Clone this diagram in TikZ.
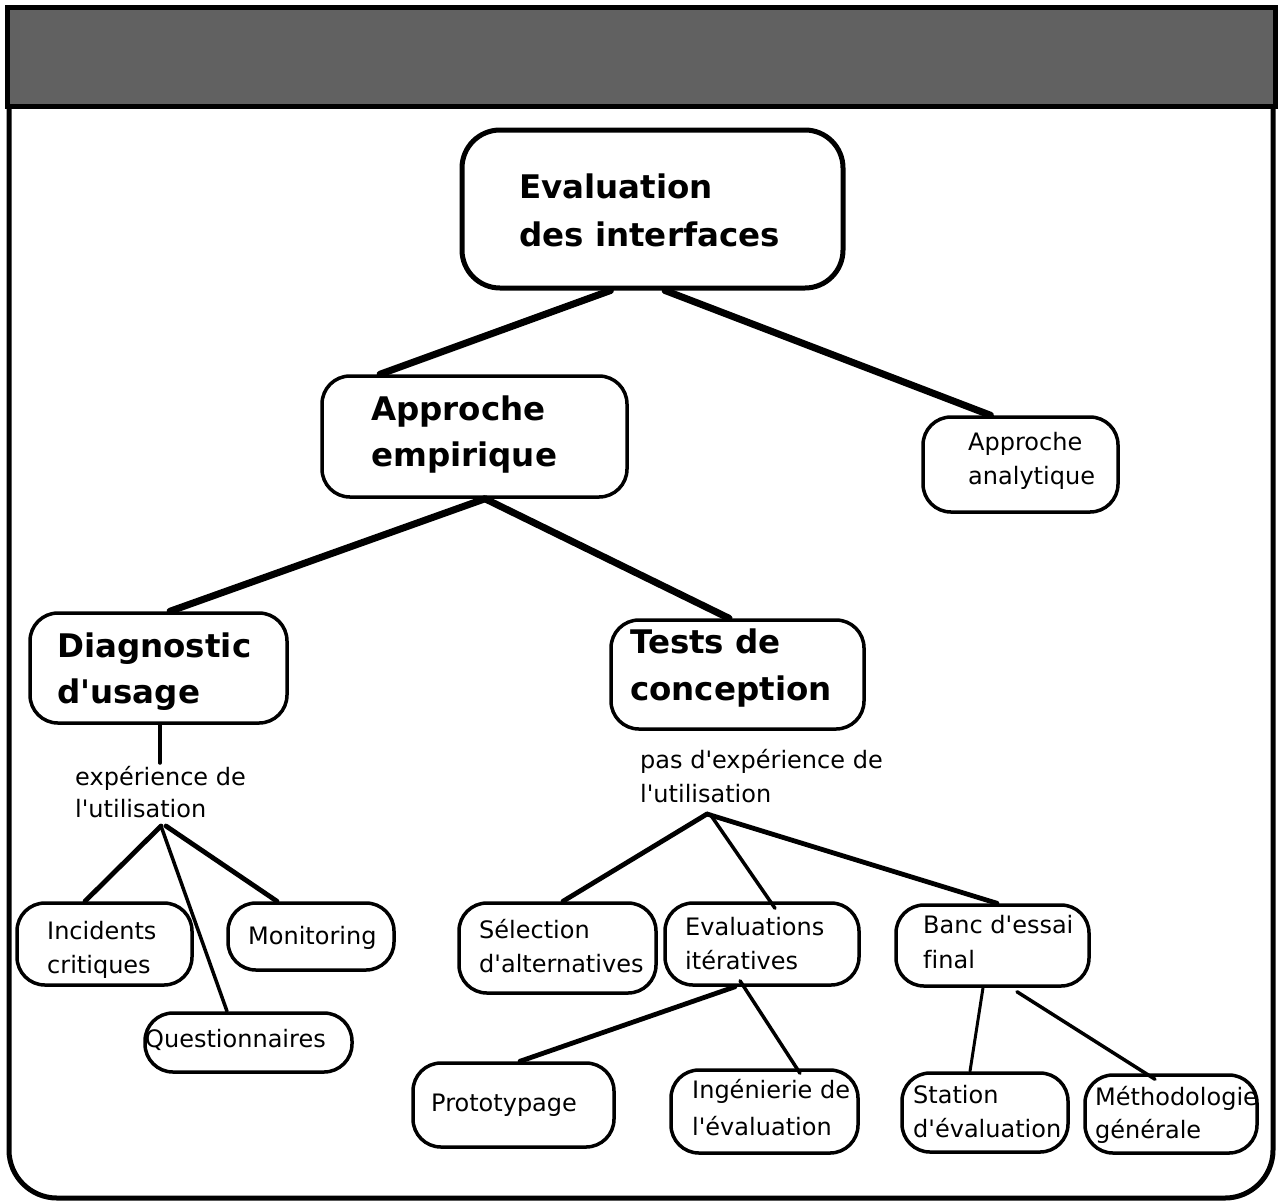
\documentclass[tikz,border=0pt]{standalone}
\usepackage{fontspec}
\setmainfont{DejaVu Sans}[Ligatures={TeXOff,CommonOff}]
\begin{document}
\begin{tikzpicture}[x=1pt,y=-1pt,
  box/.style={draw, line width=3.5pt, rounded corners=28pt, inner sep=0pt},
  bigbox/.style={draw, line width=5pt, rounded corners=38pt, inner sep=0pt},
  bigtxt/.style={font=\bfseries\fontsize{32.5}{40}\selectfont, anchor=base west, inner sep=0pt},
  smalltxt/.style={font=\fontsize{24}{30}\selectfont, anchor=base west, inner sep=0pt},
  heavy/.style={line width=7pt, line cap=round},
  medium/.style={line width=4.8pt, line cap=round},
  light/.style={line width=3.5pt, line cap=round},
  frame/.style={line width=5pt}]
\useasboundingbox (0,0) rectangle (1281,1203);
% header bar and frame
\fill[black!62] (7,7) rectangle (1275,106);
\draw[frame] (7,7) rectangle (1275,106);
\draw[frame, rounded corners=48pt] (9,106) -- (9,1198) -- (1273,1198) -- (1273,106);

% boxes
\node[bigbox, minimum width=381pt, minimum height=158pt] (eval) at (652.5,209) {};
\node[box, minimum width=305pt, minimum height=121pt] (emp) at (474.5,436.5) {};
\node[box, minimum width=195pt, minimum height=95pt] (ana) at (1020.5,464.5) {};
\node[box, minimum width=257pt, minimum height=110pt] (diag) at (158.5,668) {};
\node[box, minimum width=253pt, minimum height=109pt] (tests) at (737.5,674.5) {};
\node[box, minimum width=175pt, minimum height=82pt] (inc) at (104.5,944) {};
\node[box, minimum width=166pt, minimum height=67pt] (mon) at (311,936.5) {};
\node[box, minimum width=207pt, minimum height=59pt] (quest) at (248.5,1042.5) {};
\node[box, minimum width=197pt, minimum height=90pt] (sel) at (557.5,948) {};
\node[box, minimum width=194pt, minimum height=82pt] (evals) at (762,944) {};
\node[box, minimum width=193pt, minimum height=81pt] (banc) at (992.5,945.5) {};
\node[box, minimum width=201pt, minimum height=84pt] (proto) at (513.5,1105) {};
\node[box, minimum width=187pt, minimum height=83pt] (inge) at (764.5,1111.5) {};
\node[box, minimum width=166pt, minimum height=79pt] (station) at (985,1112.5) {};
\node[box, minimum width=172pt, minimum height=78pt] (meth) at (1171,1114) {};

% texts
\node[bigtxt] (t1) at (519,198) {Evaluation};
\node[bigtxt] (t2) at (519,246) {des interfaces};
\node[bigtxt] (t3) at (371,420) {Approche};
\node[bigtxt] (t4) at (371,466) {empirique};
\node[smalltxt] (t5) at (968,450) {Approche};
\node[smalltxt] (t6) at (968,484) {analytique};
\node[bigtxt] (t7) at (57,657) {Diagnostic};
\node[bigtxt] (t8) at (57,703) {d'usage};
\node[bigtxt] (t9) at (630,653) {Tests de};
\node[bigtxt] (t10) at (630,700) {conception};
\node[smalltxt] (t11) at (75,785) {expérience de};
\node[smalltxt] (t12) at (75,817) {l'utilisation};
\node[smalltxt] (t13) at (640,768) {pas d'expérience de};
\node[smalltxt] (t14) at (640,802) {l'utilisation};
\node[smalltxt] (t15) at (47,939) {Incidents};
\node[smalltxt] (t16) at (47,973) {critiques};
\node[smalltxt] (t17) at (248,944) {Monitoring};
\node[smalltxt] (t18) at (145,1047) {Questionnaires};
\node[smalltxt] (t19) at (479,938) {Sélection};
\node[smalltxt] (t20) at (479,972) {d'alternatives};
\node[smalltxt] (t21) at (685,935) {Evaluations};
\node[smalltxt] (t22) at (685,969) {itératives};
\node[smalltxt] (t23) at (923,933) {Banc d'essai};
\node[smalltxt] (t24) at (923,968) {final};
\node[smalltxt] (t25) at (431,1111) {Prototypage};
\node[smalltxt] (t26) at (692,1098) {Ingénierie de};
\node[smalltxt] (t27) at (692,1135) {l'évaluation};
\node[smalltxt] (t28) at (913,1103) {Station};
\node[smalltxt] (t29) at (913,1137) {d'évaluation};
\node[smalltxt] (t30) at (1095,1105) {Méthodologie};
\node[smalltxt] (t31) at (1095,1138) {générale};

% connector points
\coordinate (dend) at (160,763);
\coordinate (dfork) at (161,826);
\coordinate (tfork) at (707,814);

% connectors
\draw[heavy] ([xshift=-42pt]eval.south) -- ([xshift=-94.5pt]emp.north);
\draw[heavy] ([xshift=12.5pt]eval.south) -- ([xshift=-30pt]ana.north);
\draw[heavy] ([xshift=10.5pt]emp.south) -- ([xshift=11.5pt]diag.north);
\draw[heavy] ([xshift=10.5pt]emp.south) -- ([xshift=-8.5pt]tests.north);
\draw[light] ([xshift=1.5pt]diag.south) -- (dend);
\draw[medium] (dfork) -- ([xshift=-19.5pt]inc.north);
\draw[light] (dfork) -- ([xshift=-21.5pt]quest.north);
\draw[medium] ([xshift=5pt]dfork) -- ([xshift=-34pt]mon.north);
\draw[medium] (tfork) -- ([xshift=5.5pt]sel.north);
\draw[light] ([xshift=3pt]tfork) -- ([yshift=-7pt,xshift=13pt]evals.north);
\draw[medium] (tfork) -- ([xshift=4.5pt]banc.north);
\draw[medium] ([xshift=-27pt]evals.south) -- ([xshift=6.5pt]proto.north);
\draw[light] ([xshift=-22pt,yshift=6pt]evals.south) -- ([xshift=35.5pt,yshift=-5pt]inge.north);
\draw[line width=3pt, line cap=round] ([xshift=-9.5pt]banc.south) -- ([xshift=-15pt]station.north);
\draw[light] ([xshift=24.5pt,yshift=-4pt]banc.south) -- ([xshift=-16pt,yshift=-6pt]meth.north);
\end{tikzpicture}
\end{document}
